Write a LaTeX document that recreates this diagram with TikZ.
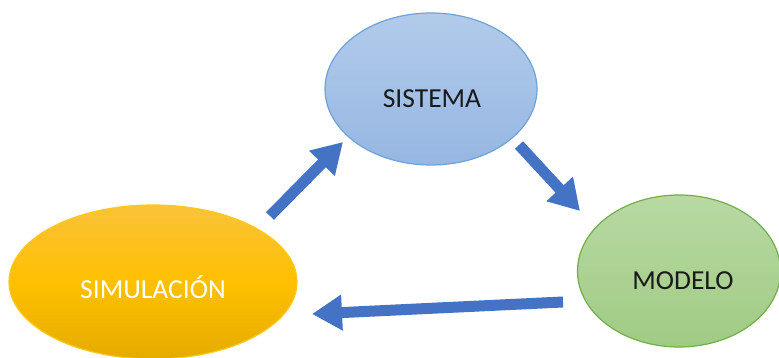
\documentclass[tikz,border=0pt]{standalone}
\usepackage{fontspec}
\setmainfont{Carlito}
\usetikzlibrary{shapes.geometric,arrows.meta}
\definecolor{arrowblue}{HTML}{4472C4}
\definecolor{bluetop}{HTML}{B2CBEB}
\definecolor{bluebot}{HTML}{96B7E2}
\definecolor{blueedge}{HTML}{6FA2D9}
\definecolor{greentop}{HTML}{B8D9A3}
\definecolor{greenbot}{HTML}{A0CB84}
\definecolor{greenedge}{HTML}{74AD4C}
\definecolor{goldtop}{HTML}{FAC23A}
\definecolor{goldmid}{HTML}{FFC000}
\definecolor{goldbot}{HTML}{E5AC00}
\definecolor{goldedge}{HTML}{FFC81A}
\definecolor{darktext}{HTML}{1A1A1A}
\tikzset{
  bubble/.style={ellipse, inner sep=0pt, line width=1.2pt},
  lbl/.style={font=\fontsize{27.5}{32}\selectfont, inner sep=0pt, anchor=center},
  blockarrow/.style={draw=arrowblue, line width=11pt,
    -{Triangle[length=30pt,width=34pt]}, arrowblue}
}
\begin{document}
\begin{tikzpicture}[x=1pt,y=-1pt]
\useasboundingbox (0,0) rectangle (779,358);
\clip (0,0) rectangle (779,358);
\fill[white] (0,0) rectangle (779,358);
% ellipses
\node[bubble, minimum width=212pt, minimum height=152pt, draw=blueedge,
      top color=bluetop, bottom color=bluebot] (sis) at (431,89) {};
\node[bubble, minimum width=288pt, minimum height=154pt, draw=goldedge,
      top color=goldtop, bottom color=goldbot, middle color=goldmid] (sim) at (153,282) {};
\node[bubble, minimum width=203pt, minimum height=152pt, draw=greenedge,
      top color=greentop, bottom color=greenbot] (mod) at (679,271) {};
% texts
\node[lbl, text=darktext] (sistxt) at (432,99) {SISTEMA};
\node[lbl, text=white] (simtxt) at (153,287) {SIMULACIÓN};
\node[lbl, text=darktext] (modtxt) at (683,281) {MODELO};
% arrow end points
\coordinate (a1s) at (270,216);
\coordinate (a1e) at (343,142);
\coordinate (a2s) at (519,145);
\coordinate (a2e) at (580,211);
\coordinate (a3s) at (563,302);
\coordinate (a3e) at (312,314);
\draw[blockarrow] (a1s) -- (a1e);
\draw[blockarrow] (a2s) -- (a2e);
\draw[blockarrow] (a3s) -- (a3e);
\end{tikzpicture}
\end{document}
